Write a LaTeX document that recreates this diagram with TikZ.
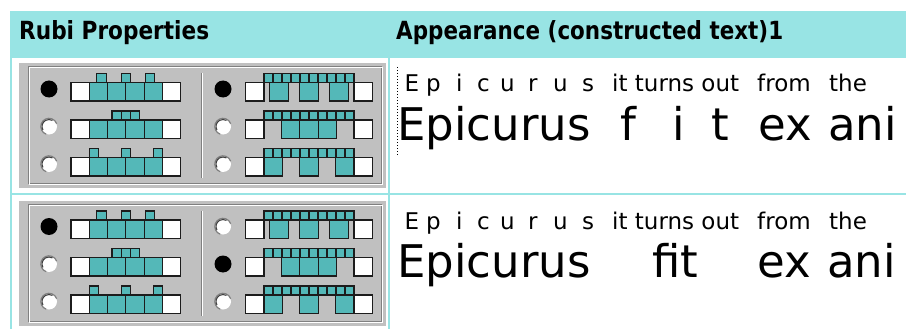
\documentclass[tikz,border=0pt]{standalone}
\usepackage{fontspec}
\setmainfont{DejaVu Sans}
\usepackage{graphicx}
\definecolor{hdrcyan}{RGB}{152,228,228}
\definecolor{rubyteal}{RGB}{84,184,184}
\definecolor{panelgray}{RGB}{192,192,192}
\definecolor{boxline}{RGB}{28,28,28}
\definecolor{etchdark}{RGB}{128,128,128}
\definecolor{radiodark}{RGB}{64,64,64}
\newsavebox\fitbox
\newcommand\fitw[2]{\sbox\fitbox{#2}\pgfmathsetmacro\fitfac{#1/\the\wd\fitbox}\scalebox{\fitfac}[1]{\usebox\fitbox}}
\tikzset{
 gbox/.style={draw=boxline, line width=1.1pt},
 tealbox/.style={gbox, fill=rubyteal},
 whitebox/.style={gbox, fill=white},
 txt/.style={inner sep=0pt, anchor=base west},
 smalltxt/.style={txt, font=\fontsize{23}{23}\selectfont},
 bigtxt/.style={txt, font=\fontsize{45}{45}\selectfont},
 hdrtxt/.style={txt, font=\fontsize{25}{25}\selectfont\bfseries},
 gridline/.style={draw=hdrcyan, line width=2pt},
}
% radio button: x, y, row, selected row
\newcommand\radiobtn[4]{%
 \ifnum#3=#4\relax
  \fill[black] (#1,#2) circle[radius=8.5];
 \else
  \fill[white] (#1,#2) circle[radius=8];
  \draw[etchdark, line width=1.2pt] (#1,#2) ++(110:8.2) arc[start angle=110, end angle=340, radius=8.2];
  \draw[radiodark, line width=1.1pt] (#1,#2) ++(150:7) arc[start angle=150, end angle=300, radius=7];
 \fi}
% left glyph: top, ruby lefts (3), ruby width
\newcommand\leftglyph[5]{%
 \draw[whitebox] (71,#1) rectangle ++(18.3,18.5);
 \draw[whitebox] (162.3,#1) rectangle ++(18.3,18.5);
 \foreach \i in {0,...,3} \draw[tealbox] (89.3+18.25*\i,#1) rectangle ++(18.25,18.5);
 \foreach \xx in {#2,#3,#4} \draw[tealbox] (\xx,#1-9) rectangle ++(#5,9);}
% right glyph: top, base lefts (3)
\newcommand\rightglyph[4]{%
 \draw[whitebox] (245.7,#1) rectangle ++(18.3,18.5);
 \draw[whitebox] (354,#1) rectangle ++(18.3,18.5);
 \foreach \i in {0,...,9} \draw[tealbox] (264+9*\i,#1-9) rectangle ++(9,9);
 \foreach \xx in {#2,#3,#4} \draw[tealbox] (\xx,#1) rectangle ++(18.3,18.5);}
% panel: y shift, selected left row, selected right row
\newcommand\rubipanel[3]{%
\begin{scope}[shift={(0,#1)}]
 \fill[panelgray] (19,63) rectangle (386,188);
 \draw[etchdark, line width=1pt] (28.5,66.5) rectangle (381.5,183.5);
 \draw[white, line width=1pt] (29.5,67.5) rectangle (382.5,184.5);
 \draw[etchdark, line width=1pt] (201.5,73) -- (201.5,178);
 \draw[white, line width=1pt] (202.5,73) -- (202.5,178);
 \radiobtn{49}{89}{1}{#2}
 \radiobtn{49}{126.5}{2}{#2}
 \radiobtn{49}{164}{3}{#2}
 \radiobtn{223}{89}{1}{#3}
 \radiobtn{223}{126.5}{2}{#3}
 \radiobtn{223}{164}{3}{#3}
 \leftglyph{82.5}{96.7}{121.05}{145.4}{9.5}
 \leftglyph{120}{112}{121.2}{130.4}{9.2}
 \leftglyph{157.5}{89.3}{121.2}{153.1}{9.2}
 \rightglyph{82.5}{269.85}{299.85}{329.85}
 \rightglyph{120}{281.55}{299.85}{318.15}
 \rightglyph{157.5}{264}{299.85}{335.7}
\end{scope}}
\begin{document}
\begin{tikzpicture}[x=1pt, y=-1pt]
\useasboundingbox (0,0) rectangle (908,329);
\fill[white] (0,0) rectangle (908,329);
% header
\fill[hdrcyan] (10,11) rectangle (906,58);
\node[hdrtxt] (h1) at (19,39.3) {\fitw{190}{Rubi Properties}};
\node[hdrtxt] (h2) at (396,39.3) {\fitw{387}{Appearance (constructed text)1}};
% grid
\draw[gridline] (11,58) -- (11,329);
\draw[gridline] (389,58) -- (389,329);
\draw[gridline] (10,194) -- (906,194);
% panels
\rubipanel{0}{1}{1}
\rubipanel{137.5}{1}{2}
% focus dotted line
\draw[black, line width=0.9pt, dash pattern=on 0.9pt off 2.1pt] (397.5,67) -- (397.5,155);
% sample texts
\begin{scope}
\clip (390,58) rectangle (896,329);
\foreach \yy/\rr in {91.5/a, 229.5/b} {
 \node[smalltxt] (e\rr) at (404.5,\yy) {E};
 \node[smalltxt] (p\rr) at (426,\yy) {p};
 \node[smalltxt] (i\rr) at (456,\yy) {i};
 \node[smalltxt] (c\rr) at (477,\yy) {c};
 \node[smalltxt] (u\rr) at (500,\yy) {u};
 \node[smalltxt] (r\rr) at (528,\yy) {r};
 \node[smalltxt] (v\rr) at (553,\yy) {u};
 \node[smalltxt] (s\rr) at (582,\yy) {s};
 \node[smalltxt] (it\rr) at (612,\yy) {it turns out};
 \node[smalltxt] (fr\rr) at (757,\yy) {from};
 \node[smalltxt] (th\rr) at (829,\yy) {the};
}
\node[bigtxt] (ep1) at (397,140) {Epicurus};
\node[bigtxt] (f1) at (620,140) {f};
\node[bigtxt] (i1) at (672,140) {i};
\node[bigtxt] (t1) at (711,140) {t};
\node[bigtxt] (ex1) at (758.5,140) {ex};
\node[bigtxt] (an1) at (828,140) {ani};
\node[bigtxt] (ep2) at (397,277.5) {Epicurus};
\node[bigtxt] (fit2) at (652,277.5) {fit};
\node[bigtxt] (ex2) at (757,277.5) {ex};
\node[bigtxt] (an2) at (827,277.5) {ani};
\end{scope}
\end{tikzpicture}
\end{document}
